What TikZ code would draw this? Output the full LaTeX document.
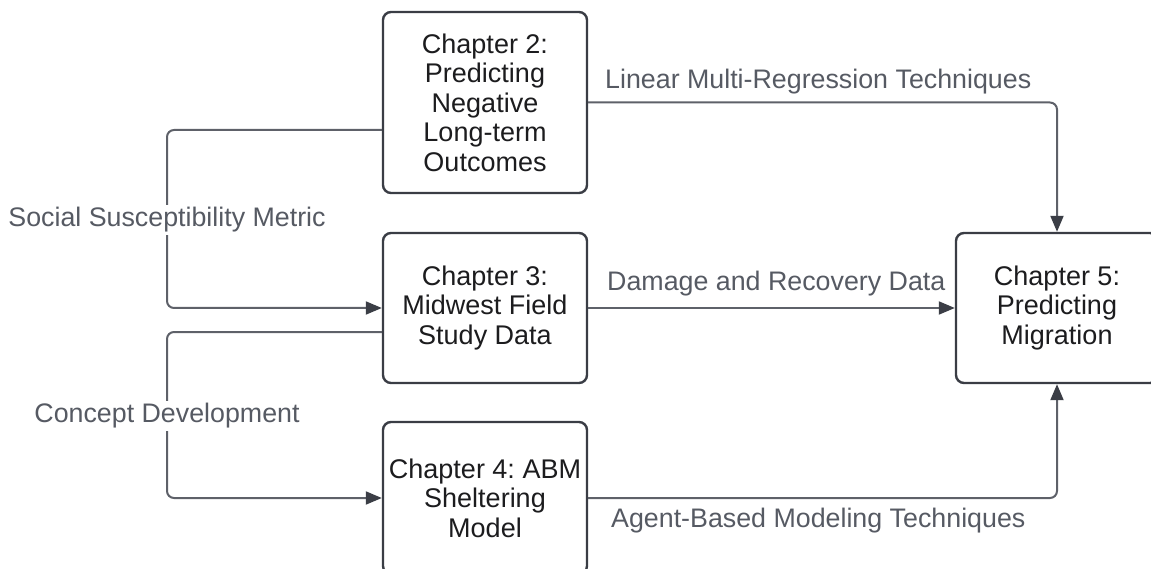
\documentclass[tikz,border=0pt]{standalone}
\usepackage{fontspec}
\setmainfont{Liberation Sans}
\frenchspacing
\usetikzlibrary{arrows.meta}
\definecolor{boxline}{HTML}{3A3D45}
\definecolor{boxtext}{HTML}{1C1C1E}
\definecolor{linkline}{HTML}{5E6169}
\definecolor{tipfill}{HTML}{3B3E46}
\definecolor{labtext}{HTML}{565A63}
\tikzset{
  chapter/.style={draw=boxline, line width=2.4pt, rounded corners=8pt, fill=white,
    minimum width=204pt, align=center, text=boxtext, inner sep=0pt,
    font=\fontsize{27}{29.5}\selectfont},
  link/.style={draw=linkline, line width=2pt, rounded corners=7pt,
    -{Triangle[length=16pt,width=13pt,fill=tipfill,color=tipfill]}},
  linklabel/.style={text=labtext, font=\fontsize{26.8}{29}\selectfont, inner sep=2pt},
  sidelabel/.style={linklabel, fill=white, inner sep=3pt}
}
\begin{document}
\begin{tikzpicture}[x=1pt,y=-1pt]
\useasboundingbox (0,0) rectangle (1151,569);
\clip (0,0) rectangle (1151,569);

% chapter boxes
\node[chapter, minimum height=181pt] (c2) at (485,102.5)
  {Chapter 2:\\Predicting\\Negative\\Long-term\\Outcomes};
\node[chapter, minimum height=150pt] (c3) at (485,308)
  {Chapter 3:\\Midwest Field\\Study Data};
\node[chapter, minimum height=152pt] (c4) at (485,498)
  {Chapter 4: ABM\\Sheltering\\Model};
\node[chapter, minimum height=150pt, minimum width=202pt] (c5) at (1057,308)
  {Chapter 5:\\Predicting\\Migration};

% bends of the two feedback links on the left
\coordinate (b1) at (167,130);
\coordinate (b2) at (167,332);

% left-hand links
\draw[link] (c2.west |- b1) -- (b1) |- (c3.west);
\draw[link] (c3.west |- b2) -- (b2) |- (c4.west);

% links into chapter 5
\draw[link] (c2.east) -| (c5.north);
\draw[link] (c3.east) -- (c5.west);
\draw[link] (c4.east) -| (c5.south);

% labels on the vertical links
\node[sidelabel] (l1) at (167,220) {Social Susceptibility Metric};
\node[sidelabel] (l2) at (167,416) {Concept Development};

% labels along the horizontal links
\node[linklabel, anchor=west] (l3) at (603,82) {Linear Multi-Regression Techniques};
\node[linklabel, anchor=west] (l4) at (605,284) {Damage and Recovery Data};
\node[linklabel, anchor=west] (l5) at (609,521) {Agent-Based Modeling Techniques};
\end{tikzpicture}
\end{document}
